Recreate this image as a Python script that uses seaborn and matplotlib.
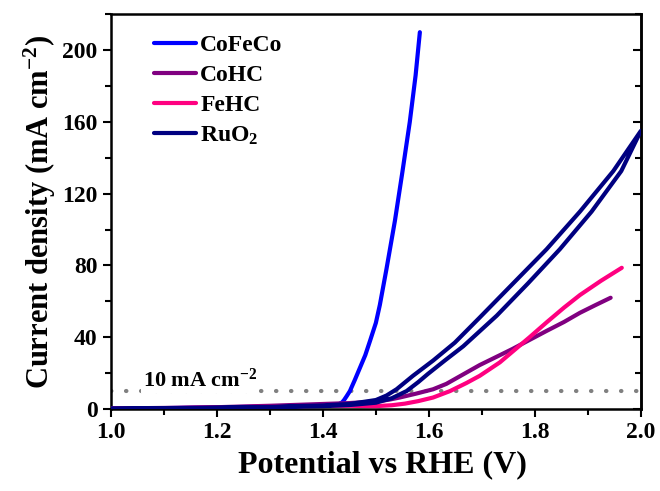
import numpy as np
import pandas as pd
import matplotlib
matplotlib.use("Agg")
import matplotlib.pyplot as plt
import seaborn as sns
from matplotlib.ticker import MultipleLocator

# LSV data (potential in V vs RHE, current density in mA cm-2)
cofeco_v = [1.00, 1.10, 1.20, 1.30, 1.38, 1.42, 1.43, 1.436, 1.44, 1.445, 1.451, 1.46,
            1.47, 1.48, 1.489, 1.50, 1.5075, 1.52, 1.536, 1.55, 1.564, 1.575, 1.583]
cofeco_i = [0.3, 0.5, 0.9, 1.4, 1.9, 2.2, 2.7, 3.6, 5.0, 7.2, 10, 16,
            23, 30, 38, 48, 58, 78, 105, 132, 160, 186, 210]

cohc_v = [1.00, 1.10, 1.20, 1.30, 1.40, 1.45, 1.50, 1.525, 1.545, 1.575, 1.608, 1.633,
          1.66, 1.696, 1.734, 1.758, 1.79, 1.822, 1.855, 1.885, 1.915, 1.943]
cohc_i = [0.3, 0.6, 1.0, 1.8, 2.8, 3.3, 4.2, 5.2, 6.4, 8.5, 11, 14,
          18.5, 24.5, 30, 33.5, 38.5, 43.5, 48.5, 53.6, 58, 62]

fehc_v = [1.00, 1.10, 1.20, 1.30, 1.40, 1.45, 1.50, 1.53, 1.555, 1.58, 1.608, 1.64,
          1.671, 1.696, 1.734, 1.758, 1.79, 1.823, 1.855, 1.885, 1.925, 1.964]
fehc_i = [0.2, 0.4, 0.8, 1.3, 1.8, 1.8, 1.6, 2.1, 3.0, 4.4, 6.4, 10,
          14.5, 18.5, 26, 32, 40, 48.5, 56.5, 63.5, 71.5, 78.7]

# RuO2: forward scan then reverse scan (drawn as one loop)
ruo2_fwd_v = [1.00, 1.10, 1.20, 1.30, 1.40, 1.45, 1.50, 1.53, 1.558, 1.58, 1.598, 1.63,
              1.665, 1.728, 1.787, 1.847, 1.907, 1.963, 2.00]
ruo2_fwd_i = [0.1, 0.3, 0.6, 1.0, 1.6, 2.2, 3.5, 6.0, 10.0, 15, 19.5, 27,
              35, 52, 70, 89, 110, 132.6, 155]
ruo2_rev_v = [2.00, 1.948, 1.885, 1.822, 1.759, 1.696, 1.649, 1.608, 1.570, 1.539,
              1.52, 1.50, 1.45, 1.40, 1.30, 1.20, 1.10, 1.00]
ruo2_rev_i = [155, 132.6, 110, 89, 70, 51, 37, 27, 18.5, 11,
              7.5, 5.0, 2.8, 2.0, 1.2, 0.8, 0.4, 0.2]

names = ["CoFeCo", "CoHC", "FeHC", "RuO$_2$"]
colors = ["#0000FF", "#800080", "#FF0080", "#000080"]

frames = []
for name, v, i in [(names[0], cofeco_v, cofeco_i),
                   (names[1], cohc_v, cohc_i),
                   (names[2], fehc_v, fehc_i),
                   (names[3], ruo2_fwd_v + ruo2_rev_v, ruo2_fwd_i + ruo2_rev_i)]:
    frames.append(pd.DataFrame({"V": v, "J": i, "sample": name}))
df = pd.concat(frames, ignore_index=True)

sns.set_style("ticks")
plt.rcParams["font.family"] = ["Liberation Serif", "DejaVu Serif"]
plt.rcParams["font.weight"] = "bold"
plt.rcParams["mathtext.fontset"] = "custom"
plt.rcParams["mathtext.rm"] = "Liberation Serif:bold"
plt.rcParams["mathtext.it"] = "Liberation Serif:bold"
plt.rcParams["mathtext.bf"] = "Liberation Serif:bold"
for k in ["text.color", "axes.labelcolor", "xtick.color", "ytick.color", "axes.edgecolor"]:
    plt.rcParams[k] = "black"

fig = plt.figure(figsize=(6.6, 4.91), dpi=100)
ax = fig.add_axes([0.168, 0.167, 0.803, 0.804])

# 10 mA cm-2 reference line
ax.axhline(10, color="gray", lw=3, ls=(0, (0.1, 3.5)), dash_capstyle="round", zorder=1)
ax.text(1.06, 16, "10 mA cm$^{-2}$", fontsize=16, fontweight="bold", va="center",
        bbox=dict(facecolor="white", edgecolor="none", pad=1), zorder=2)

sns.lineplot(data=df, x="V", y="J", hue="sample", palette=colors, hue_order=names,
             sort=False, estimator=None, lw=3, ax=ax, zorder=3)

ax.set_xlim(1.0, 2.0)
ax.set_ylim(0, 220)
ax.xaxis.set_major_locator(MultipleLocator(0.2))
ax.xaxis.set_minor_locator(MultipleLocator(0.1))
ax.yaxis.set_major_locator(MultipleLocator(40))
ax.yaxis.set_minor_locator(MultipleLocator(20))
ax.set_xticklabels([f"{t:.1f}" for t in ax.get_xticks()])
ax.tick_params(which="major", length=6, width=1.5, labelsize=17, direction="out")
ax.tick_params(which="minor", length=4, width=1.5, direction="out")
for s in ax.spines.values():
    s.set_linewidth(1.8)

# mirrored ticks on the right, pointing inwards
sec = ax.secondary_yaxis("right")
sec.yaxis.set_major_locator(MultipleLocator(40))
sec.yaxis.set_minor_locator(MultipleLocator(20))
sec.tick_params(which="major", direction="in", length=6, width=1.5, labelright=False)
sec.tick_params(which="minor", direction="in", length=4, width=1.5)
sec.spines["right"].set_linewidth(1.8)

ax.set_xlabel("Potential vs RHE (V)", fontsize=23, fontweight="bold", labelpad=7)
ax.xaxis.set_label_coords(0.513, -0.105)
ax.set_ylabel("Current density (mA cm$^{-2}$)", fontsize=22, fontweight="bold", labelpad=3)

leg = ax.legend(loc="upper left", bbox_to_anchor=(0.055, 0.985), frameon=False,
                fontsize=17, handlelength=1.75, handletextpad=0.2, labelspacing=0.36,
                borderaxespad=0.2)
for line in leg.get_lines():
    line.set_linewidth(3)

fig.savefig("out.png", dpi=100)
